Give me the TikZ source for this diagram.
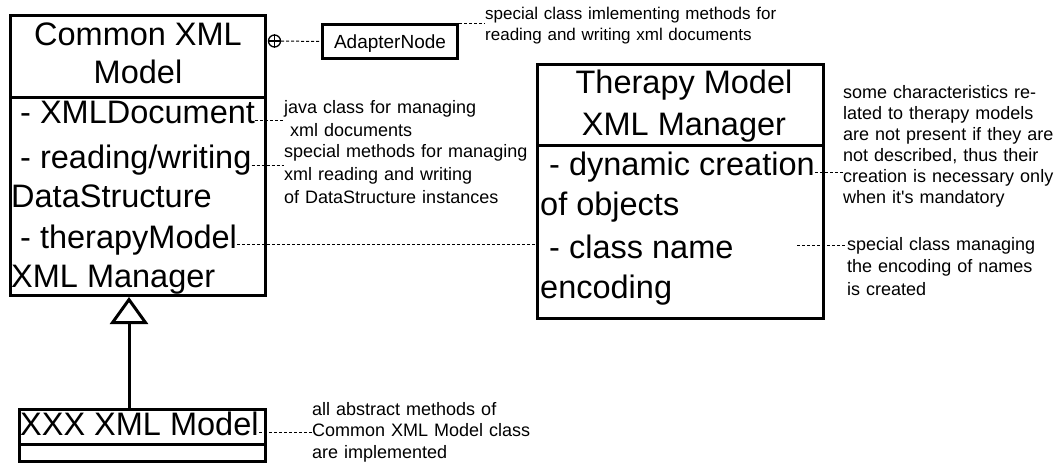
\documentclass[tikz,border=0pt]{standalone}
\usepackage{fontspec}
\setmainfont{Liberation Sans}
\usepackage{tikz}
\usetikzlibrary{arrows.meta}

\tikzset{
  classbox/.style={draw, line width=3pt, inner sep=0pt},
  divider/.style={line width=3pt},
  big/.style={font=\fontsize{32.5}{41}\selectfont, inner sep=0pt},
  headline/.style={big, anchor=base},
  attr/.style={big, anchor=base west},
  note/.style={font=\fontsize{18}{22}\selectfont, text width=330pt, align=left,
               anchor=base west, inner sep=0pt},
  link/.style={line width=1pt, dash pattern=on 3pt off 2pt},
  inherit/.style={line width=3pt, -{Triangle[open, length=27pt, width=38pt]}},
}

\begin{document}
\begin{tikzpicture}[x=1pt, y=-1pt]
  \useasboundingbox (0,0) rectangle (1060,467);

  % classes
  \node[classbox, minimum width=255pt, minimum height=280pt] (common) at (138,155.5) {};
  \node[classbox, minimum width=286pt, minimum height=254pt] (therapy) at (680.5,191.5) {};
  \node[classbox, minimum width=246pt, minimum height=52pt] (xxx) at (142.5,435.5) {};
  \node[classbox, minimum width=135pt, minimum height=34pt, text depth=0pt,
        font=\fontsize{19}{22}\selectfont] (adapter) at (390,41.5) {AdapterNode};
  \draw[divider] (10.5,97) -- (265.5,97);
  \draw[divider] (537.5,145) -- (823.5,145);
  \draw[divider] (19.5,444) -- (265.5,444);

  % names and attributes
  \node[headline] (commonA) at (138,45) {Common XML};
  \node[headline] (commonB) at (138,83) {Model};
  \node[attr] (xmldoc) at (11,123) {~- XMLDocument};
  \node[attr] (rw) at (11,168) {~- reading/writing};
  \node[attr] (datastruct) at (11,207) {DataStructure};
  \node[attr] (tmodel) at (11,248) {~- therapyModel};
  \node[attr] (tmanager) at (11,287) {XML Manager};

  \node[headline] (therapyA) at (684,93) {Therapy Model};
  \node[headline] (therapyB) at (684,135) {XML Manager};
  \node[attr] (dyn) at (540,175) {~- dynamic creation};
  \node[attr] (objects) at (540,215) {of objects};
  \node[attr] (cname) at (540,258) {~- class name};
  \node[attr] (encoding) at (540,298) {encoding};

  \node[attr] (xxxname) at (20,435) {XXX XML Model};

  % nesting mark
  \node[draw, circle, line width=1.3pt, minimum size=12pt, inner sep=0pt] (nest) at (274.5,41) {};
  \draw[line width=1.3pt] (nest.north) -- (nest.south) (nest.west) -- (nest.east);

  % notes
  \node[note, font=\fontsize{17}{21}\selectfont] (adapternote) at (485,19) {special class imlementing methods for\\reading and writing xml documents};
  \node[note, font=\fontsize{18}{23.5}\selectfont] (javanote) at (284,113) {java class for managing\\~xml documents};
  \node[note, font=\fontsize{18}{23}\selectfont] (rwnote) at (284,157) {special methods for managing\\xml reading and writing\\of DataStructure instances};
  \node[note, font=\fontsize{18}{21}\selectfont] (therapynote) at (843,98) {some characteristics re-\\lated to therapy models\\are not present if they are\\not described, thus their\\creation is necessary only\\when it\textquotesingle s mandatory};
  \node[note, font=\fontsize{18}{22.5}\selectfont] (cnamenote) at (847,250) {special class managing\\the encoding of names\\is created};
  \node[note, font=\fontsize{18}{21.5}\selectfont] (abstractnote) at (312,415) {all abstract methods of\\Common XML Model class\\are implemented};

  % connectors
  \draw[link] (nest.east) -- (adapter.west);
  \draw[link] (adapter.north east) -- (adapter.north east -| adapternote.west);
  \draw[link] (xmldoc.mid east) -- (xmldoc.mid east -| javanote.west);
  \draw[link] (rw.mid east) -- (rw.mid east -| rwnote.west);
  \draw[link] ([yshift=4pt]tmodel.base east) -- ([yshift=4pt]tmodel.base east -| therapy.west);
  \draw[link] (dyn.mid east) -- (dyn.mid east -| therapynote.west);
  \coordinate (cnamelink) at (797,245);
  \draw[link] (cnamelink) -- (cnamelink -| cnamenote.west);
  \draw[link] (xxxname.mid east) -- (xxxname.mid east -| abstractnote.west);
  \draw[inherit] ([xshift=-13.5pt]xxx.north) -- ([xshift=-13.5pt]xxx.north |- common.south);
\end{tikzpicture}
\end{document}
